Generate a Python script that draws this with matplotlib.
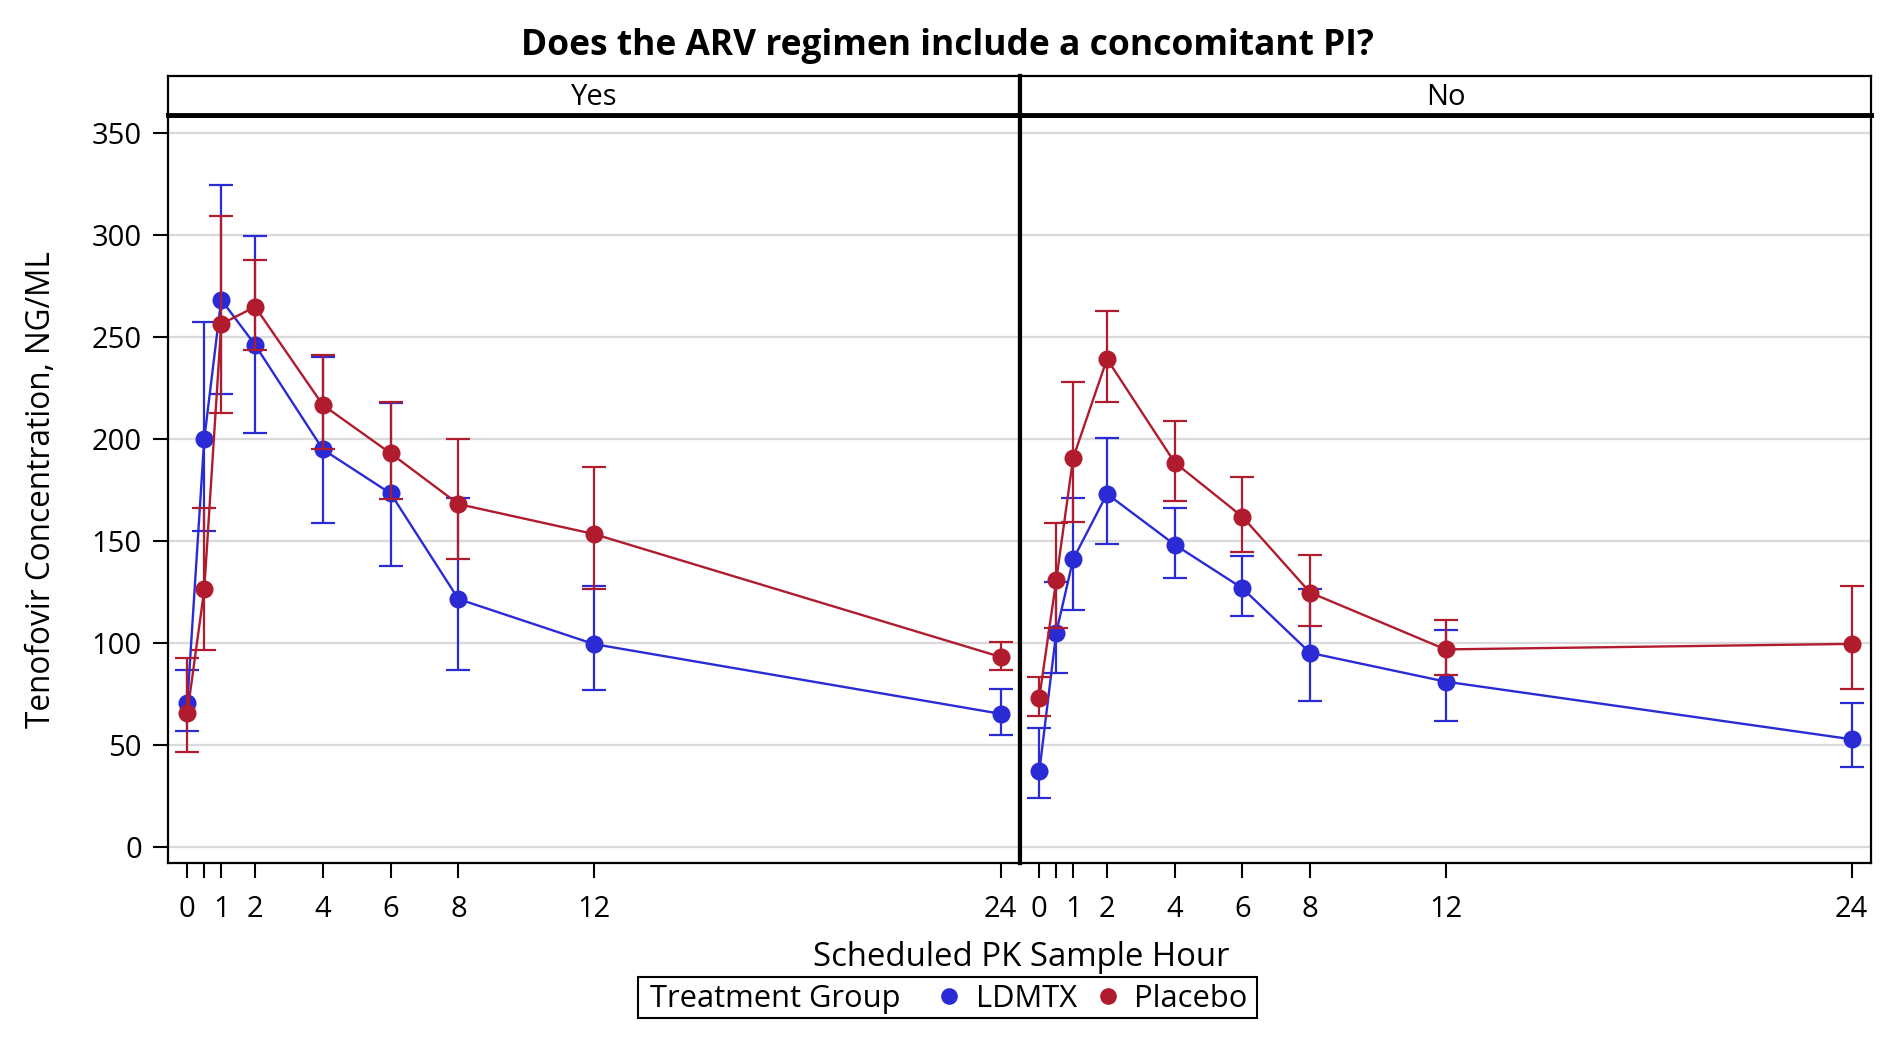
import matplotlib
matplotlib.use('Agg')
import matplotlib.pyplot as plt
from matplotlib.patches import Rectangle
from matplotlib.lines import Line2D
import numpy as np

# ---------------- data ----------------
hours = [0, 0.5, 1, 2, 4, 6, 8, 12, 24]
tick_labels = ['0', '', '1', '2', '4', '6', '8', '12', '24']
y_ticks = [0, 50, 100, 150, 200, 250, 300, 350]
panels = ['Yes', 'No']
groups = ['LDMTX', 'Placebo']

ldmtx_yes_mean = [70.4, 200.0, 268.4, 246.2, 194.9, 173.3, 121.5, 99.4, 65.2]
ldmtx_yes_lower = [56.9, 155.0, 221.9, 203.1, 158.6, 137.9, 86.5, 77.0, 54.6]
ldmtx_yes_upper = [86.7, 257.2, 324.9, 299.6, 240.3, 217.8, 170.9, 128.0, 77.2]
placebo_yes_mean = [65.4, 126.2, 256.4, 264.9, 216.7, 193.0, 168.1, 153.4, 93.1]
placebo_yes_lower = [46.3, 96.5, 212.9, 243.6, 194.9, 170.6, 141.3, 126.6, 86.6]
placebo_yes_upper = [92.7, 166.0, 309.3, 288.1, 241.1, 218.0, 200.0, 186.1, 100.2]

ldmtx_no_mean = [36.9, 105.0, 141.0, 173.1, 148.2, 126.8, 95.1, 81.0, 52.7]
ldmtx_no_lower = [23.8, 85.0, 115.9, 148.7, 132.0, 113.1, 71.6, 61.9, 39.3]
ldmtx_no_upper = [58.1, 129.8, 171.0, 200.7, 166.0, 142.5, 126.6, 106.5, 70.3]
placebo_no_mean = [73.1, 130.7, 190.7, 239.3, 188.5, 161.9, 124.7, 96.8, 99.5]
placebo_no_lower = [64.3, 107.3, 159.4, 218.1, 169.7, 144.4, 108.4, 84.2, 77.4]
placebo_no_upper = [83.1, 158.7, 227.9, 262.6, 208.7, 181.2, 143.1, 111.2, 127.9]

series = {
    'Yes': [(ldmtx_yes_mean, ldmtx_yes_lower, ldmtx_yes_upper),
            (placebo_yes_mean, placebo_yes_lower, placebo_yes_upper)],
    'No': [(ldmtx_no_mean, ldmtx_no_lower, ldmtx_no_upper),
           (placebo_no_mean, placebo_no_lower, placebo_no_upper)],
}

# ---------------- style ----------------
plt.rcParams['font.family'] = ['Open Sans', 'DejaVu Sans']
BLUE = '#2b2bd6'
RED = '#b01c2e'
colors = [BLUE, RED]
W, H = 1895, 1039

def fx(px):
    return px / W

def fy(py):
    return 1 - py / H

fig = plt.figure(figsize=(W / 100, H / 100), dpi=100)

plot_top, plot_bot = 115, 863
strip_top = 76
panel_x = [(168, 1020), (1020, 1871)]

for i, (name, (x0, x1)) in enumerate(zip(panels, panel_x)):
    ax = fig.add_axes([fx(x0), fy(plot_bot), (x1 - x0) / W, (plot_bot - plot_top) / H])
    for k, ((mean, lo, hi), c) in enumerate(zip(series[name], colors)):
        mean = np.array(mean); lo = np.array(lo); hi = np.array(hi)
        ax.errorbar(hours, mean, yerr=[mean - lo, hi - mean], fmt='none', ecolor=c,
                    elinewidth=1.6, capsize=8.8, capthick=1.6, zorder=3 + k)
        ax.plot(hours, mean, color=c, lw=1.7, marker='o', markersize=13,
                markeredgewidth=0, zorder=3 + k)
    ax.set_xlim(-0.57, 24.57)
    ax.set_ylim(-8, 359)
    ax.set_xticks(hours)
    ax.set_xticklabels(tick_labels)
    ax.set_yticks(y_ticks)
    ax.yaxis.grid(True, color='#dadada', lw=1.6)
    ax.set_axisbelow(True)
    ax.tick_params(axis='x', length=10.8, width=1.5, labelsize=21, pad=12, direction='out')
    for sp in ax.spines.values():
        sp.set_linewidth(1.6)
    if i == 0:
        ax.tick_params(axis='y', length=10.8, width=1.5, labelsize=21, pad=8, direction='out')
        ax.spines['right'].set_linewidth(3.0)
    else:
        ax.tick_params(axis='y', left=False, labelleft=False)
        ax.spines['left'].set_linewidth(3.0)
    ax.spines['top'].set_linewidth(3.5)

    # header strip
    hx = fig.add_axes([fx(x0), fy(plot_top), (x1 - x0) / W, (plot_top - strip_top) / H])
    hx.set_xticks([]); hx.set_yticks([])
    for sp in hx.spines.values():
        sp.set_linewidth(1.6)
    hx.spines['bottom'].set_linewidth(3.5)
    if i == 0:
        hx.spines['right'].set_linewidth(3.0)
    else:
        hx.spines['left'].set_linewidth(3.0)
    hx.text(0.5, 0.46, name, ha='center', va='center', fontsize=21, transform=hx.transAxes)

fig.text(fx(42), fy(490), 'Tenofovir Concentration, NG/ML', rotation=90,
         ha='center', va='center', fontsize=22.7)
fig.text(fx(947), fy(46), 'Does the ARV regimen include a concomitant PI?',
         ha='center', va='center', fontsize=25.5, fontweight='bold')
fig.text(fx(1021), fy(958), 'Scheduled PK Sample Hour', ha='center', va='center', fontsize=23.7)

# legend box
fig.patches.append(Rectangle((fx(638), fy(1018)), (1257 - 638) / W, (1018 - 977) / H,
                             transform=fig.transFigure, fill=False, edgecolor='black', lw=1.5))
fig.text(fx(650), fy(999), 'Treatment Group', ha='left', va='center', fontsize=22.2)
handles = [Line2D([], [], ls='none', marker='o', markersize=12, markeredgewidth=0, color=c)
           for c in colors]
fig.legend(handles, groups, loc='center left', bbox_to_anchor=(fx(937), fy(999)),
           ncol=2, frameon=False, fontsize=22.2, handlelength=0.8, handletextpad=0.45,
           columnspacing=0.62, borderpad=0, borderaxespad=0)

fig.savefig('out.png', dpi=100)
